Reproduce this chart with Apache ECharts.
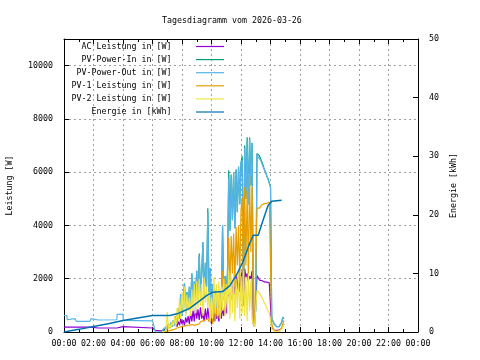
<!DOCTYPE html>
<html><head><meta charset="utf-8">
<script src="https://cdn.jsdelivr.net/npm/echarts@6/dist/echarts.min.js"></script>
<style>html,body{margin:0;padding:0;background:#fff}#c{width:480px;height:360px}</style>
</head><body><div id="c"></div>
<script>
const titleText = "Tagesdiagramm vom 2026-03-26";
const seriesNames = ["AC Leistung in [W]", "PV-Power-In in [W]", "PV-Power-Out in [W]", "PV-1 Leistung in [W]", "PV-2 Leistung in [W]", "Energie in [kWh]"];
const seriesColors = ["#9400d3", "#009e73", "#56b4e9", "#e69f00", "#f0e442", "#0072b2"];
const leftAxisName = "Leistung [W]";
const rightAxisName = "Energie [kWh]";

// night values (irregular timestamps)
const nightTimes = ["00:00","00:12","00:13","00:45","00:50","01:45","01:50","02:20","03:35","03:36","04:00","04:01","06:00","06:08","06:12","06:35"];
const nightOut = [620,620,460,500,400,400,500,450,460,660,660,440,420,430,0,0];
const nightAC  = [180,180,180,180,180,180,175,150,150,200,200,150,150,140,60,40];

// day values, every 5 minutes starting 06:40
const dayStart = "06:40";
const dayStepMin = 5;
const acDay = [
  60,80,100,120,150,180,130,200,150,250,
  180,300,200,400,250,500,300,450,250,550,
  350,600,300,700,400,800,400,900,500,850,
  450,930,500,700,400,880,450,900,500,600,
  300,700,400,880,500,690,400,800,500,900,
  600,1000,700,1300,1440,1300,1500,1200,2050,1400,
  2100,1600,2200,1500,2050,2300,1000,2380,2050,2200,
  1900,2100,2000,2300,300,200,250,2120,2050,1950,
  1900,1930,1900,1880,1850,1870,1830,1850,1820,150,
  100,70,60,60,60,70,100,130,200,300];
const pvInDay = [
  50,120,60,200,100,300,150,350,200,450,
  250,600,350,900,500,1430,600,1200,1820,700,
  1500,900,1700,1000,2200,1100,1900,1300,2300,1200,
  2950,1500,2100,3380,1300,2600,1700,4650,1400,2400,
  900,1800,700,1550,900,1400,1000,1550,800,4000,
  1300,2100,1600,2200,6070,3800,5900,4200,6000,3900,
  6100,4500,6200,4800,6350,6600,1200,7000,5000,7310,
  4800,7300,5500,7100,900,600,800,6700,6760,6620,
  6500,6380,6250,6100,6000,5850,5750,5600,5450,550,
  400,300,250,200,250,200,250,350,550,500];
const pvOutDay = [
  50,120,60,200,100,300,150,350,200,450,
  250,600,350,900,500,1430,600,1200,1820,700,
  1500,900,1700,1000,2200,1100,1900,1300,2300,1200,
  2870,1500,2100,3380,1300,2600,1700,4500,1400,2400,
  900,1800,700,1550,900,1400,1000,1550,800,4000,
  1300,2100,1600,2200,5800,3800,5900,4200,6000,3900,
  6100,4500,6200,4800,6350,6450,1200,6900,5000,7200,
  4800,7250,5500,7100,900,600,800,6700,6550,6620,
  6450,6380,6200,6100,6000,5850,5750,5600,5450,550,
  400,300,250,200,250,200,250,350,550,500];
const pv1Day = [
  0,0,10,20,30,40,50,60,80,90,
  100,120,150,130,180,160,200,170,220,190,
  250,200,260,230,280,300,250,320,280,350,
  300,380,330,420,360,450,400,500,380,600,
  1100,300,1200,400,900,500,1400,600,1500,2300,
  1200,2000,1400,1800,3560,1800,3600,2200,3700,1700,
  3940,2500,4000,2000,4570,5070,1000,5440,2500,5300,
  2000,5900,3000,5440,400,300,350,4650,4700,4650,
  4720,4780,4800,4820,4850,4830,4870,4880,4880,300,
  150,60,30,20,30,40,80,150,300,430];
const pv2Day = [
  0,50,20,100,750,100,300,150,400,200,
  600,200,900,400,1300,500,1500,700,1700,600,
  1400,800,1300,600,1600,800,1800,700,1900,900,
  2000,1000,1800,600,2050,1100,1700,900,1500,400,
  1300,500,2060,700,1800,600,1900,500,1700,800,
  2000,600,1800,700,2300,500,2100,700,2200,400,
  2000,900,2250,500,2100,700,2300,600,2050,400,
  2200,800,1900,500,300,200,250,1560,1500,1450,
  1380,1300,1200,1100,1000,900,800,720,680,120,
  60,30,20,20,20,30,50,100,200,300];

// energy (kWh)
const energyTimes = ["00:00","01:00","02:00","03:00","04:00","05:00","06:00","07:10","07:40","08:30","09:40","10:05","10:45","11:15","11:45","12:10","12:35","12:50","13:10","13:30","13:50","14:05","14:45"];
const energyValues = [0,0.45,0.95,1.4,1.95,2.4,2.82,2.82,3.1,4.0,6.2,6.8,6.9,7.9,10.0,12.2,15.1,16.5,16.5,19.1,21.6,22.3,22.5];

function hm(s){ const p = s.split(':').map(Number); return p[0] + p[1]/60; }
const t0 = hm(dayStart);
const dayTimes = acDay.map((_, i) => t0 + i*dayStepMin/60);
const pairs = (ts, vs) => vs.map((v, i) => [ts[i], v]);
const nightT = nightTimes.map(hm);

const FONT = "DejaVu Sans Mono";
const FS = 8.3;

const chart = echarts.init(document.getElementById('c'), null, {renderer:'canvas'});

const allData = [
  pairs(nightT, nightAC).concat(pairs(dayTimes, acDay)),
  pairs(dayTimes, pvInDay),
  pairs(nightT, nightOut).concat(pairs(dayTimes, pvOutDay)),
  pairs(dayTimes, pv1Day),
  pairs(dayTimes, pv2Day),
  pairs(energyTimes.map(hm), energyValues)
];

const series = allData.map((d, k) => ({
  name: seriesNames[k], type: 'line', data: d, yAxisIndex: k === 5 ? 1 : 0,
  showSymbol: false, symbol: 'none', animation: false,
  lineStyle: {color: seriesColors[k], width: k === 5 ? 1.5 : 1.2},
  itemStyle: {color: seriesColors[k]}, z: 2 + k
}));

const legendGraphics = [];
seriesNames.forEach((n, k) => {
  const y = 46.5 + k * 13.1;
  legendGraphics.push({type:'text', x: 171.5, y: y, style:{text: n, fill:'#000', font: FS + 'px "' + FONT + '"', textAlign:'right', textVerticalAlign:'middle'}, z: 100});
  legendGraphics.push({type:'line', shape:{x1:196, y1:y, x2:224, y2:y}, style:{stroke: seriesColors[k], lineWidth: 1.2}, z: 100});
});

const blackLine = {lineStyle:{color:'#000', width:1}};
const gridLine = {show:true, showMinLine:false, showMaxLine:false, lineStyle:{color:'#a0a0a0', type:[2,3], width:1}};
const hourFmt = v => String(v % 24).padStart(2,'0') + ':00';
const plainFmt = v => String(v);

chart.setOption({
  animation: false,
  backgroundColor: '#fff',
  title: {text: titleText, left: 157, top: 12, textStyle:{fontFamily: FONT, fontSize: FS, fontWeight:'normal', color:'#000'}},
  grid: {left: 64, right: 62, top: 39, bottom: 28, containLabel: false, outerBoundsMode: 'none'},
  xAxis: [{
    type:'value', min:0, max:24, interval:2, position:'bottom',
    axisLine:{show:true, onZero:false, ...blackLine},
    axisTick:{show:true, inside:true, length:5, ...blackLine},
    minorTick:{show:true, splitNumber:2, length:3, ...blackLine},
    splitLine: gridLine,
    axisLabel:{formatter: hourFmt, fontFamily: FONT, fontSize: FS, color:'#000', margin: 8}
  },{
    type:'value', min:0, max:24, interval:2, position:'top',
    axisLine:{show:true, onZero:false, ...blackLine},
    axisTick:{show:true, inside:true, length:5, ...blackLine},
    minorTick:{show:true, splitNumber:2, length:3, ...blackLine},
    splitLine:{show:false}, axisLabel:{show:false}
  }],
  yAxis: [{
    type:'value', min:0, max:11000, interval:2000, position:'left',
    name: leftAxisName, nameLocation:'middle', nameRotate:90, nameGap: 50,
    nameTextStyle:{fontFamily: FONT, fontSize: FS, color:'#000'},
    axisLine:{show:true, onZero:false, ...blackLine},
    axisTick:{show:true, inside:true, length:5, ...blackLine},
    splitLine: gridLine,
    axisLabel:{showMaxLabel:false, formatter: plainFmt, fontFamily: FONT, fontSize: FS, color:'#000', margin: 11}
  },{
    type:'value', min:0, max:50, interval:10, position:'right',
    name: rightAxisName, nameLocation:'middle', nameRotate:90, nameGap: 30,
    nameTextStyle:{fontFamily: FONT, fontSize: FS, color:'#000'},
    axisLine:{show:true, onZero:false, ...blackLine},
    axisTick:{show:true, inside:true, length:5, ...blackLine},
    splitLine:{show:false},
    axisLabel:{formatter: plainFmt, fontFamily: FONT, fontSize: FS, color:'#000', margin: 11}
  }],
  graphic: legendGraphics,
  series: series
});
</script></body></html>
